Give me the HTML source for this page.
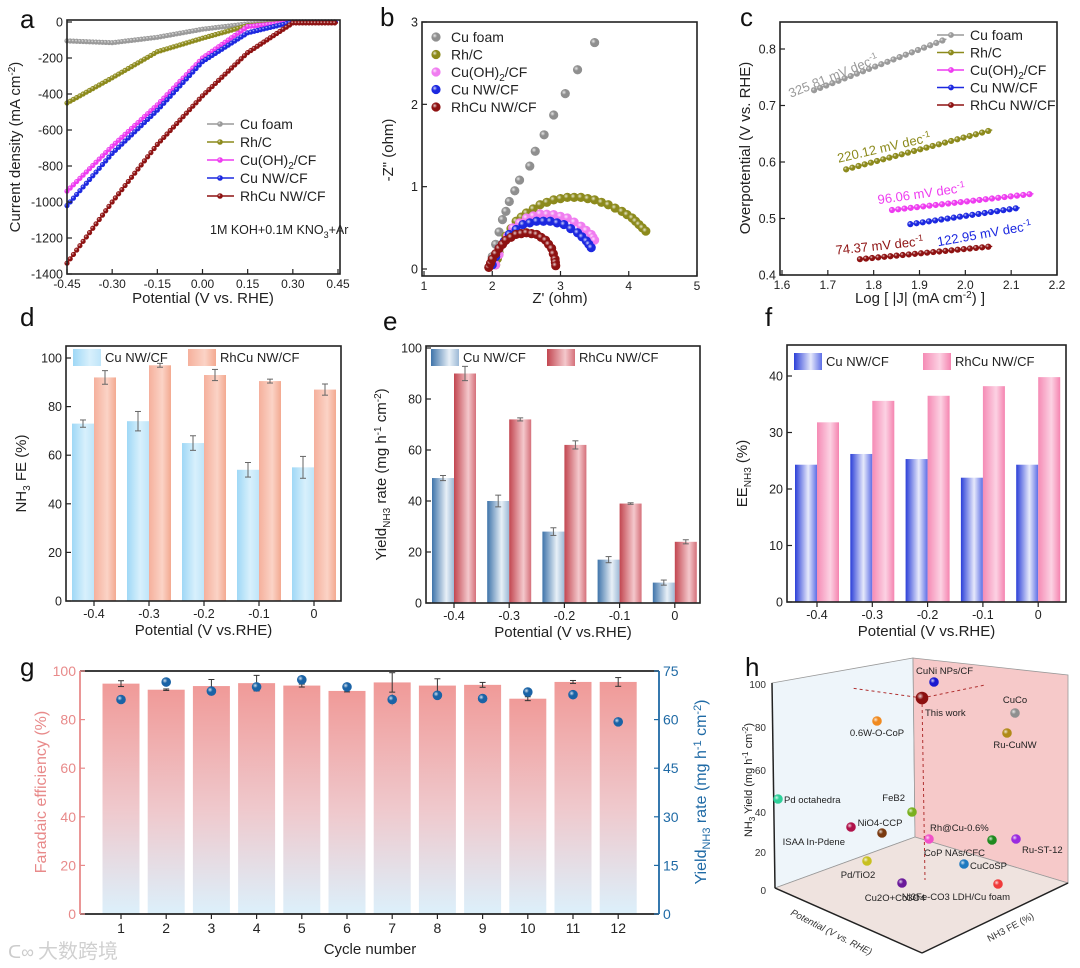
<!DOCTYPE html>
<html><head><meta charset="utf-8">
<style>
html,body{margin:0;padding:0;background:#fff;}
svg{display:block;font-family:"Liberation Sans","Noto Sans CJK SC",sans-serif;}
</style></head>
<body>
<svg id="fig" width="1080" height="968" viewBox="0 0 1080 968" xmlns="http://www.w3.org/2000/svg">
<defs>
<linearGradient id="gLB" x1="0" x2="1" y1="0" y2="0"><stop offset="0" stop-color="#9fd8f6"/><stop offset="0.6" stop-color="#d8f0fc"/><stop offset="1" stop-color="#bfe5f9"/></linearGradient>
<linearGradient id="gSal" x1="0" x2="1" y1="0" y2="0"><stop offset="0" stop-color="#f5b09c"/><stop offset="0.6" stop-color="#fbd3c6"/><stop offset="1" stop-color="#f3a990"/></linearGradient>
<linearGradient id="gEB" x1="0" x2="1" y1="0" y2="0"><stop offset="0" stop-color="#3f74aa"/><stop offset="0.65" stop-color="#e8f0f7"/><stop offset="1" stop-color="#9cb9d6"/></linearGradient>
<linearGradient id="gER" x1="0" x2="1" y1="0" y2="0"><stop offset="0" stop-color="#c24650"/><stop offset="0.65" stop-color="#f4c8cc"/><stop offset="1" stop-color="#d5707a"/></linearGradient>
<linearGradient id="gFB" x1="0" x2="1" y1="0" y2="0"><stop offset="0" stop-color="#2b3fd8"/><stop offset="0.6" stop-color="#e6e9fb"/><stop offset="1" stop-color="#5d6ee6"/></linearGradient>
<linearGradient id="gFP" x1="0" x2="1" y1="0" y2="0"><stop offset="0" stop-color="#f58bb5"/><stop offset="0.6" stop-color="#fcd2e3"/><stop offset="1" stop-color="#f584b0"/></linearGradient>
<linearGradient id="gG" x1="0" x2="0" y1="0" y2="1"><stop offset="0" stop-color="#f09a98"/><stop offset="0.55" stop-color="#efc9cd"/><stop offset="1" stop-color="#dcf0fb"/></linearGradient>
<radialGradient id="ball" cx="0.35" cy="0.35" r="0.7"><stop offset="0" stop-color="#fff" stop-opacity="0.8"/><stop offset="0.4" stop-color="#fff" stop-opacity="0"/></radialGradient>
</defs>
</svg>
<script>
// ---------- DATA ----------
const aPot = [-0.45,-0.3,-0.15,0,0.15,0.3,0.45];
const aCuFoam = [-105,-115,-85,-40,-10,0,0];
const aRhC = [-450,-310,-165,-90,-20,0,0];
const aCuOH = [-940,-690,-460,-200,-25,0,0];
const aCuNW = [-1020,-730,-490,-220,-60,0,0];
const aRhCu = [-1340,-1000,-680,-410,-170,-5,-5];

const bCuFoamX = [1.95,2.0,2.05,2.1,2.15,2.2,2.25,2.33,2.4,2.55,2.63,2.76,2.9,3.07,3.25,3.5];
const bCuFoamY = [0.02,0.15,0.3,0.45,0.6,0.7,0.82,0.95,1.08,1.25,1.43,1.63,1.87,2.13,2.42,2.75];
const bRhCX = [2.05,2.1,2.2,2.35,2.5,2.7,2.9,3.1,3.3,3.5,3.7,3.9,4.05,4.15,4.25];
const bRhCY = [0.05,0.2,0.4,0.58,0.68,0.78,0.84,0.87,0.87,0.84,0.78,0.7,0.62,0.54,0.46];
const bCuOHX = [2.05,2.15,2.3,2.5,2.7,2.9,3.1,3.3,3.45,3.5];
const bCuOHY = [0.05,0.3,0.5,0.62,0.67,0.66,0.62,0.52,0.42,0.35];
const bCuNWX = [2.0,2.1,2.25,2.45,2.65,2.85,3.05,3.25,3.38,3.45];
const bCuNWY = [0.05,0.25,0.42,0.54,0.58,0.58,0.54,0.44,0.34,0.26];
const bRhCuX = [1.95,2.0,2.1,2.2,2.35,2.5,2.65,2.78,2.87,2.92,2.93];
const bRhCuY = [0.02,0.12,0.25,0.35,0.42,0.44,0.42,0.35,0.25,0.12,0.04];

const cLogJStart = [1.67,1.74,1.84,1.88,1.77];
const cLogJEnd = [1.95,2.05,2.14,2.11,2.05];
const cEtaStart = [0.727,0.587,0.515,0.49,0.428];
const cEtaEnd = [0.815,0.655,0.543,0.518,0.45];
const cSlopes = ["325.81","220.12","96.06","122.95","74.37"];

const potCats = ["-0.4","-0.3","-0.2","-0.1","0"];
const dCu = [73,74,65,54,55];
const dCuErr = [1.5,4,3,3,4.5];
const dRhCu = [92,97,93,90.5,87];
const dRhCuErr = [2.8,0.8,2.3,0.8,2.3];
const eCu = [49,40,28,17,8];
const eCuErr = [1,2.3,1.5,1.2,1];
const eRhCu = [90,72,62,39,24];
const eRhCuErr = [2.8,0.6,1.6,0.3,0.8];
const fCu = [24.3,26.2,25.3,22,24.3];
const fRhCu = [31.8,35.6,36.5,38.2,39.8];

const gCycles = ["1","2","3","4","5","6","7","8","9","10","11","12"];
const gFE = [94.8,92.3,93.8,95,94,91.8,95.3,94,94.3,88.6,95.5,95.5];
const gFEErr = [1.2,0.3,2.7,3.2,0.6,0.4,4,2.8,1,0.8,0.6,1.8];
const gYield = [66.2,71.6,68.8,70.1,72.3,70.1,66.2,67.5,66.5,68.5,67.7,59.3];
const gYieldErr = [0,0,1.2,1.5,0,0,1.8,1,0,0,0,0];

// ---------- HELPERS ----------
const NS='http://www.w3.org/2000/svg';
const svg=document.getElementById('fig');
function add(tag,name,attrs,parent,txt){
  const e=document.createElementNS(NS,tag);
  
  
  for(const k in attrs) e.setAttribute(k,attrs[k]);
  if(txt!==undefined) e.textContent=txt;
  (parent||svg).appendChild(e);
  return e;
}
function lin(d0,d1,r0,r1){return v=>r0+(v-d0)*(r1-r0)/(d1-d0);}
function frame(g,x0,y0,x1,y1,name){
  add('rect',name+'-frame',{x:x0,y:y0,width:x1-x0,height:y1-y0,fill:'none',stroke:'#222','stroke-width':1.6},g);
}
function xTicks(g,sx,vals,labels,y1,name){
  vals.forEach((v,i)=>{
    add('line',name+'-xtick',{x1:sx(v),x2:sx(v),y1:y1,y2:y1-5,stroke:'#222','stroke-width':1.2},g);
    add('text',name+'-xtick-label',{x:sx(v),y:y1+14,'font-size':12,'text-anchor':'middle',fill:'#222'},g,labels[i]);
  });
}
function yTicks(g,sy,vals,labels,x0,name,color){
  vals.forEach((v,i)=>{
    add('line',name+'-ytick',{x1:x0,x2:x0+5,y1:sy(v),y2:sy(v),stroke:color||'#222','stroke-width':1.2},g);
    add('text',name+'-ytick-label',{x:x0-4,y:sy(v)+4.5,'font-size':12.5,'text-anchor':'end',fill:color||'#222'},g,labels[i]);
  });
}
function panelLetter(x,y,t){add('text','panel-label-'+t,{x:x,y:y,'font-size':26,fill:'#111'},svg,t);}
function ytitle(g,x,y,html,name,color,size){
  const t=add('text',name,{x:x,y:y,'font-size':size||15,'text-anchor':'middle',fill:color||'#222',transform:`rotate(-90 ${x} ${y})`},g);
  t.innerHTML=html;return t;
}
function xtitle(g,x,y,html,name){
  const t=add('text',name,{x:x,y:y,'font-size':15,'text-anchor':'middle',fill:'#222'},g);t.innerHTML=html;return t;
}
function marker(g,x,y,c,name,r){
  add('circle',name,{cx:x,cy:y,r:r||2.8,fill:c,stroke:c,'stroke-width':0.6},g);
  add('circle',name+'-shine',{cx:x,cy:y,r:r||2.8,fill:'url(#ball)'},g);
}

// ---------- PANEL A ----------
(function(){
  const g=add('g','panel-a-lsv',{});
  const sx=lin(-0.45,0.45,67,338), sy=lin(0,-1400,22,274);
  const series=[[aCuFoam,'#9a9a9a','Cu foam'],[aRhC,'#8c8a1c','Rh/C'],[aCuOH,'#ee3cf0','Cu(OH)<tspan font-size="10" dy="4">2</tspan><tspan dy="-4">/CF</tspan>'],[aCuNW,'#1c28e0','Cu NW/CF'],[aRhCu,'#8e1212','RhCu NW/CF']];
  series.forEach((s,si)=>{
    const pts=aPot.map((p,i)=>[sx(p),sy(s[0][i])]);
    add('polyline','lsv-curve',{points:pts.map(p=>p.join(',')).join(' '),fill:'none',stroke:s[1],'stroke-width':1.4},g);
    for(let i=0;i<pts.length-1;i++){
      const n=14;
      for(let k=0;k<n;k++){const t=k/n;marker(g,pts[i][0]+(pts[i+1][0]-pts[i][0])*t,pts[i][1]+(pts[i+1][1]-pts[i][1])*t,s[1],'lsv-marker',2.3);}
    }
    const ly=124+si*18;
    add('line','legend-line',{x1:207,x2:234,y1:ly,y2:ly,stroke:s[1],'stroke-width':1.5},g);
    marker(g,220,ly,s[1],'legend-marker',2.5);
    const t=add('text','legend-entry',{x:240,y:ly+5,'font-size':14,fill:'#222'},g);t.innerHTML=s[2];
  });
  frame(g,67,20,340,274,'panel-a');
  xTicks(g,sx,aPot,["-0.45","-0.30","-0.15","0.00","0.15","0.30","0.45"],274,'a');
  yTicks(g,sy,[0,-200,-400,-600,-800,-1000,-1200,-1400],["0","-200","-400","-600","-800","-1000","-1200","-1400"],67,'a');
  const n=add('text','electrolyte-note',{x:210,y:234,'font-size':12.5,fill:'#222'},g);n.innerHTML='1M KOH+0.1M KNO<tspan font-size="9" dy="4">3</tspan><tspan dy="-4">+Ar</tspan>';
  xtitle(g,203,303,'Potential (V vs. RHE)','a-x-title');
  ytitle(g,20,147,'Current density (mA cm<tspan font-size="10" dy="-5">-2</tspan><tspan dy="5">)</tspan>','a-y-title');
})();
panelLetter(20,28,'a');

// ---------- PANEL B ----------
(function(){
  const g=add('g','panel-b-nyquist',{});
  const sx=lin(1,5,424,697), sy=lin(0,3,269,22);
  const ser=[[bCuFoamX,bCuFoamY,'#8f8f8f','Cu foam'],[bRhCX,bRhCY,'#8c8a1c','Rh/C'],[bCuOHX,bCuOHY,'#f07cf0','Cu(OH)<tspan font-size="10" dy="4">2</tspan><tspan dy="-4">/CF</tspan>'],[bCuNWX,bCuNWY,'#1c28e0','Cu NW/CF'],[bRhCuX,bRhCuY,'#8e1212','RhCu NW/CF']];
  ser.forEach((s,si)=>{
    s[0].forEach((x,i)=>{
      marker(g,sx(x),sy(s[1][i]),s[2],'nyquist-point',4.3);
      if(si>0 && i<s[0].length-1){const mx=(sx(x)+sx(s[0][i+1]))/2,my=(sy(s[1][i])+sy(s[1][i+1]))/2;marker(g,mx,my,s[2],'nyquist-point',4.3);}
    });
    const ly=37+si*17.5;
    marker(g,436,ly,s[2],'legend-marker',4.3);
    const t=add('text','legend-entry',{x:451,y:ly+5,'font-size':14,fill:'#222'},g);t.innerHTML=s[3];
  });
  frame(g,422,22,697,276,'panel-b');
  xTicks(g,sx,[1,2,3,4,5],["1","2","3","4","5"],276,'b');
  yTicks(g,sy,[0,1,2,3],["0","1","2","3"],422,'b');
  xtitle(g,560,303,"Z' (ohm)",'b-x-title');
  ytitle(g,393,150,'-Z" (ohm)','b-y-title');
})();
panelLetter(380,26,'b');

// ---------- PANEL C ----------
(function(){
  const g=add('g','panel-c-tafel',{});
  const sx=lin(1.6,2.2,782,1057), sy=lin(0.4,0.8,275,49);
  const cols=['#9a9a9a','#8c8a1c','#ee3cf0','#1c28e0','#8e1212'];
  const names=['Cu foam','Rh/C','Cu(OH)<tspan font-size="10" dy="4">2</tspan><tspan dy="-4">/CF</tspan>','Cu NW/CF','RhCu NW/CF'];
  const labPos=[[835,80,-22],[885,152,-13],[922,198,-8],[985,238,-10],[880,250,-6]];
  cLogJStart.forEach((x0,i)=>{
    const X0=sx(x0),X1=sx(cLogJEnd[i]),Y0=sy(cEtaStart[i]),Y1=sy(cEtaEnd[i]);
    add('line','tafel-fit-line',{x1:X0,y1:Y0,x2:X1+4,y2:Y1-(Y0-Y1)/(X1-X0)*4,stroke:cols[i],'stroke-width':1.3},g);
    const n=Math.round((X1-X0)/6.2);
    for(let k=0;k<=n;k++){marker(g,X0+(X1-X0)*k/n,Y0+(Y1-Y0)*k/n,cols[i],'tafel-point',2.8);}
    const l=labPos[i];
    const t=add('text','tafel-slope-label',{x:l[0],y:l[1],'font-size':13,'text-anchor':'middle',fill:cols[i],transform:`rotate(${l[2]} ${l[0]} ${l[1]})`},g);
    t.innerHTML=cSlopes[i]+' mV dec<tspan font-size="9" dy="-5">-1</tspan>';
    const ly=35+i*17.5;
    add('line','legend-line',{x1:937,x2:964,y1:ly,y2:ly,stroke:cols[i],'stroke-width':1.5},g);
    marker(g,951,ly,cols[i],'legend-marker',2.6);
    const lt=add('text','legend-entry',{x:970,y:ly+5,'font-size':14,fill:'#222'},g);lt.innerHTML=names[i];
  });
  frame(g,780,22,1057,275,'panel-c');
  xTicks(g,sx,[1.6,1.7,1.8,1.9,2.0,2.1,2.2],["1.6","1.7","1.8","1.9","2.0","2.1","2.2"],275,'c');
  yTicks(g,sy,[0.4,0.5,0.6,0.7,0.8],["0.4","0.5","0.6","0.7","0.8"],780,'c');
  xtitle(g,920,303,'Log [ |J| (mA cm<tspan font-size="10" dy="-5">-2</tspan><tspan dy="5">) ]</tspan>','c-x-title');
  ytitle(g,750,148,'Overpotential (V vs. RHE)','c-y-title');
})();
panelLetter(740,26,'c');

// ---------- BAR PANELS D,E,F ----------
function barPanel(o){
  const g=add('g',o.name,{});
  const sy=lin(0,o.ymaxTick,o.y0,o.yTop);
  const cx=i=>o.c0+i*o.step;
  potCats.forEach((c,i)=>{
    [[o.s1,o.e1,o.f1,-1],[o.s2,o.e2,o.f2,0]].forEach((s,j)=>{
      const x=cx(i)+s[3]*22, v=s[0][i];
      add('rect',j?'bar-rhcu':'bar-cu',{x:x,y:sy(v),width:22,height:o.y0-sy(v),fill:s[2]},g);
      if(s[1]){
        const e=s[1][i],xm=x+11;
        add('line','error-bar',{x1:xm,x2:xm,y1:sy(v+e),y2:sy(v-e),stroke:'#666','stroke-width':1},g);
        add('line','error-cap',{x1:xm-3,x2:xm+3,y1:sy(v+e),y2:sy(v+e),stroke:'#666','stroke-width':1},g);
        add('line','error-cap',{x1:xm-3,x2:xm+3,y1:sy(v-e),y2:sy(v-e),stroke:'#666','stroke-width':1},g);
      }
    });
    add('line','x-tick',{x1:cx(i),x2:cx(i),y1:o.y0,y2:o.y0+5,stroke:'#222','stroke-width':1.2},g);
    add('text','x-tick-label',{x:cx(i),y:o.y0+17,'font-size':12.5,'text-anchor':'middle',fill:'#222'},g,c);
  });
  add('rect','frame',{x:o.x0,y:o.top,width:o.x1-o.x0,height:o.y0-o.top,fill:'none',stroke:'#222','stroke-width':1.6},g);
  yTicks(g,sy,o.ticks,o.ticks.map(String),o.x0,o.name);
  add('rect','legend-swatch-cu',{x:o.lg[0],y:o.lg[2]-8,width:28,height:17,fill:o.f1},g);
  add('text','legend-entry',{x:o.lg[0]+32,y:o.lg[2]+5,'font-size':13,fill:'#222'},g,'Cu NW/CF');
  add('rect','legend-swatch-rhcu',{x:o.lg[1],y:o.lg[2]-8,width:28,height:17,fill:o.f2},g);
  add('text','legend-entry',{x:o.lg[1]+32,y:o.lg[2]+5,'font-size':13,fill:'#222'},g,'RhCu NW/CF');
  xtitle(g,(o.x0+o.x1)/2,o.y0+34,'Potential (V vs.RHE)',o.name+'-x-title');
  ytitle(g,o.x0-40,(o.top+o.y0)/2,o.ytitle,o.name+'-y-title');
}
barPanel({name:'panel-d-fe',x0:66,x1:341,top:346,y0:601,yTop:358,ymaxTick:100,c0:94,step:55,s1:dCu,e1:dCuErr,f1:'url(#gLB)',s2:dRhCu,e2:dRhCuErr,f2:'url(#gSal)',ticks:[0,20,40,60,80,100],lg:[73,188,357],ytitle:'NH<tspan font-size="10" dy="4">3</tspan><tspan dy="-4"> FE (%)</tspan>'});
barPanel({name:'panel-e-yield',x0:426,x1:700,top:346,y0:603,yTop:348,ymaxTick:100,c0:454,step:55.2,s1:eCu,e1:eCuErr,f1:'url(#gEB)',s2:eRhCu,e2:eRhCuErr,f2:'url(#gER)',ticks:[0,20,40,60,80,100],lg:[431,547,357],ytitle:'Yield<tspan font-size="10" dy="4">NH3</tspan><tspan dy="-4"> rate (mg h</tspan><tspan font-size="10" dy="-5">-1</tspan><tspan dy="5"> cm</tspan><tspan font-size="10" dy="-5">-2</tspan><tspan dy="5">)</tspan>'});
barPanel({name:'panel-f-ee',x0:787,x1:1066,top:345,y0:602,yTop:376,ymaxTick:40,c0:817,step:55.3,s1:fCu,e1:null,f1:'url(#gFB)',s2:fRhCu,e2:null,f2:'url(#gFP)',ticks:[0,10,20,30,40],lg:[794,923,361],ytitle:'EE<tspan font-size="10" dy="4">NH3</tspan><tspan dy="-4"> (%)</tspan>'});
panelLetter(20,326,'d');
panelLetter(383,330,'e');
panelLetter(765,326,'f');

// ---------- PANEL G ----------
(function(){
  const g=add('g','panel-g-stability',{});
  const sx=i=>121+i*45.2;
  const syL=lin(0,100,914,671), syR=lin(0,75,914,671);
  gCycles.forEach((c,i)=>{
    add('rect','bar-fe-cycle',{x:sx(i)-18.5,y:syL(gFE[i]),width:37,height:914-syL(gFE[i]),fill:'url(#gG)'},g);
    const e=gFEErr[i];
    add('line','error-bar',{x1:sx(i),x2:sx(i),y1:syL(gFE[i]+e),y2:syL(gFE[i]-e),stroke:'#333','stroke-width':1},g);
    add('line','error-cap',{x1:sx(i)-3,x2:sx(i)+3,y1:syL(gFE[i]+e),y2:syL(gFE[i]+e),stroke:'#333','stroke-width':1},g);
    add('line','error-cap',{x1:sx(i)-3,x2:sx(i)+3,y1:syL(gFE[i]-e),y2:syL(gFE[i]-e),stroke:'#333','stroke-width':1},g);
    if(gYieldErr[i]) add('line','yield-error',{x1:sx(i),x2:sx(i),y1:syR(gYield[i]+gYieldErr[i]),y2:syR(gYield[i]-gYieldErr[i]),stroke:'#888','stroke-width':1},g);
    marker(g,sx(i),syR(gYield[i]),'#1a63a6','yield-point',4.5);
    add('line','x-tick',{x1:sx(i),x2:sx(i),y1:914,y2:919,stroke:'#222','stroke-width':1.2},g);
    add('text','x-tick-label',{x:sx(i),y:933,'font-size':14,'text-anchor':'middle',fill:'#222'},g,c);
  });
  add('line','top-axis',{x1:80,x2:659,y1:671,y2:671,stroke:'#222','stroke-width':1.8},g);
  add('line','bottom-axis',{x1:80,x2:659,y1:914,y2:914,stroke:'#222','stroke-width':1.8},g);
  add('line','left-axis',{x1:80,x2:80,y1:671,y2:914,stroke:'#e88a8a','stroke-width':1.8},g);
  add('line','right-axis',{x1:659,x2:659,y1:671,y2:914,stroke:'#1f6aa5','stroke-width':1.8},g);
  [0,20,40,60,80,100].forEach(v=>{
    add('line','left-tick',{x1:80,x2:85,y1:syL(v),y2:syL(v),stroke:'#e88a8a','stroke-width':1.2},g);
    add('text','left-tick-label',{x:76,y:syL(v)+5,'font-size':14,'text-anchor':'end',fill:'#e88a8a'},g,String(v));
  });
  [0,15,30,45,60,75].forEach(v=>{
    add('line','right-tick',{x1:654,x2:659,y1:syR(v),y2:syR(v),stroke:'#1f6aa5','stroke-width':1.2},g);
    add('text','right-tick-label',{x:663,y:syR(v)+5,'font-size':14,fill:'#1f6aa5'},g,String(v));
  });
  xtitle(g,370,954,'Cycle number','g-x-title');
  ytitle(g,46,792,'Faradaic efficiency (%)','g-y-left-title','#e88a8a',16);
  ytitle(g,706,792,'Yield<tspan font-size="11" dy="4">NH3</tspan><tspan dy="-4"> rate (mg h</tspan><tspan font-size="11" dy="-5">-1</tspan><tspan dy="5"> cm</tspan><tspan font-size="11" dy="-5">-2</tspan><tspan dy="5">)</tspan>','g-y-right-title','#1f6aa5',16);
  add('text','watermark',{x:38,y:958,'font-size':20,fill:'#ccc',opacity:0.9,style:'font-family:"Noto Sans CJK SC",sans-serif'},g,'大数跨境');
  add('text','watermark-logo',{x:8,y:958,'font-size':18,fill:'#ccc'},g,'ᑕ∞');
})();
panelLetter(20,676,'g');

// ---------- PANEL H (3D comparison) ----------
const hLabels=["CuNi NPs/CF","This work","CuCo","Ru-CuNW","0.6W-O-CoP","Pd octahedra","FeB2","ISAA In-Pdene","NiO4-CCP","Rh@Cu-0.6%","CoP NAs/CFC","Ru-ST-12","Pd/TiO2","CuCoSP","Cu2O+Co3O4","Ni3Fe-CO3 LDH/Cu foam"];
const hColors=["#1a1ad0","#8b0f0f","#8f8f8f","#b08a18","#f08a20","#2ed09a","#7ab020","#b0124a","#7a3a10","#f050c8","#1f8a1f","#9a2ae0","#c8c020","#1f7ac0","#6a1a9a","#f03a3a"];
(function(){
  const g=add('g','panel-h-3d-comparison',{});
  add('polygon','left-wall',{points:'772,683 913,658 915,837 775,888',fill:'#eef5fa',stroke:'#999','stroke-width':0.8},g);
  add('polygon','right-wall',{points:'913,658 1068,675 1068,883 915,837',fill:'#f6c9c9',stroke:'#999','stroke-width':0.8},g);
  add('polygon','floor',{points:'775,888 915,837 1068,883 922,953',fill:'#efe3df',stroke:'#999','stroke-width':0.8},g);
  add('line','z-axis',{x1:772,x2:775,y1:683,y2:888,stroke:'#222','stroke-width':1.5},g);
  add('line','x-axis-3d',{x1:775,x2:922,y1:888,y2:953,stroke:'#222','stroke-width':1.5},g);
  add('line','y-axis-3d',{x1:922,x2:1068,y1:953,y2:883,stroke:'#222','stroke-width':1.5},g);
  [[100,684],[80,727],[60,770],[40,812],[20,852],[0,890]].forEach(t=>{
    add('text','z-tick-label',{x:766,y:t[1]+4,'font-size':10,'text-anchor':'end',fill:'#333'},g,String(t[0]));
  });
  const pos=[[934,682],[922,698],[1015,713],[1007,733],[877,721],[778,799],[912,812],[851,827],[882,833],[929,839],[992,840],[1016,839],[867,861],[964,864],[902,883],[998,884]];
  const lab=[[916,674,'start'],[925,716,'start'],[1015,703,'middle'],[1015,748,'middle'],[877,736,'middle'],[784,803,'start'],[905,801,'end'],[845,845,'end'],[880,826,'middle'],[930,831,'start'],[985,856,'end'],[1022,853,'start'],[858,878,'middle'],[970,869,'start'],[895,901,'middle'],[1010,900,'end']];
  add('line','guide-dash',{x1:922,x2:925,y1:698,y2:880,stroke:'#b03030','stroke-width':1,'stroke-dasharray':'3,3'},g);
  add('line','guide-dash',{x1:922,x2:851,y1:698,y2:688,stroke:'#b03030','stroke-width':1,'stroke-dasharray':'3,3'},g);
  add('line','guide-dash',{x1:922,x2:985,y1:698,y2:685,stroke:'#b03030','stroke-width':1,'stroke-dasharray':'3,3'},g);
  hLabels.forEach((l,i)=>{
    marker(g,pos[i][0],pos[i][1],hColors[i],'comparison-point',i===1?6:4.5);
    const t=add('text','comparison-label',{x:lab[i][0],y:lab[i][1],'font-size':9.5,'text-anchor':lab[i][2],fill:'#222'},g);
    t.textContent=l;
  });
  ytitle(g,752,780,'NH<tspan font-size="8" dy="3">3</tspan><tspan dy="-3"> Yield (mg h</tspan><tspan font-size="8" dy="-4">-1</tspan><tspan dy="4"> cm</tspan><tspan font-size="8" dy="-4">-2</tspan><tspan dy="4">)</tspan>','h-z-title','#222',11);
  add('text','h-x-title',{x:830,y:935,'font-size':9.5,'font-style':'italic',fill:'#333','text-anchor':'middle',transform:'rotate(27 830 935)'},g,'Potential (V vs. RHE)');
  add('text','h-y-title',{x:1012,y:930,'font-size':9.5,fill:'#333','text-anchor':'middle',transform:'rotate(-28 1012 930)'},g,'NH3 FE (%)');
})();
panelLetter(745,676,'h');
</script>
</body></html>
